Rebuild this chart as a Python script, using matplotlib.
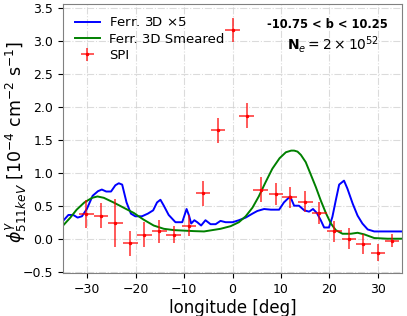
import matplotlib.pyplot as plt
import numpy as np

# SPI data points
spi_lon = [-30.2, -27.2, -24.2, -21.1, -18.2, -15.1, -12.2, -9.0, -6.1, -3.0, 0.0,
           2.9, 5.8, 9.0, 11.8, 15.0, 17.9, 21.0, 24.0, 27.0, 30.0, 32.9]
spi_flux = [0.38, 0.36, 0.25, -0.06, 0.07, 0.12, 0.07, 0.21, 0.70, 1.65, 3.17,
            1.87, 0.75, 0.69, 0.64, 0.57, 0.40, 0.12, 0.01, -0.07, -0.20, -0.02]
spi_err = [0.21, 0.19, 0.36, 0.19, 0.19, 0.17, 0.13, 0.16, 0.19, 0.19, 0.18,
           0.19, 0.19, 0.17, 0.16, 0.16, 0.17, 0.16, 0.16, 0.15, 0.13, 0.10]
spi_xerr = 1.5

# Ferr. 3D x5 model
ferr_lon = [-35, -33.9, -32.9, -32.0, -31.1, -30.1, -28.9, -27.8, -27.0, -26.1, -25.1,
            -24.2, -23.5, -22.8, -21.9, -21.0, -20.1, -18.7, -17.5, -16.4, -15.6, -14.9,
            -14.2, -13.2, -11.8, -10.4, -9.5, -9.0, -8.55, -7.9, -7.3, -6.5, -5.6, -4.55,
            -3.5, -2.5, -1.45, 0.0, 1.3, 2.7, 4.1, 5.1, 6.5, 7.9, 9.6, 10.6, 11.3, 11.9,
            12.7, 13.7, 14.8, 15.8, 16.6, 17.4, 18.2, 18.9, 19.9, 20.6, 21.3, 22.0, 23.0,
            23.7, 24.8, 25.8, 26.8, 27.9, 29.25, 35]
ferr_flux = [0.28, 0.37, 0.37, 0.33, 0.35, 0.46, 0.66, 0.73, 0.755, 0.725, 0.725,
             0.82, 0.85, 0.83, 0.56, 0.39, 0.35, 0.35, 0.39, 0.44, 0.56, 0.60,
             0.51, 0.37, 0.26, 0.26, 0.46, 0.36, 0.24, 0.29, 0.26, 0.21, 0.29, 0.23,
             0.23, 0.28, 0.26, 0.26, 0.29, 0.33, 0.39, 0.43, 0.46, 0.45, 0.45, 0.56, 0.61, 0.65,
             0.51, 0.51, 0.44, 0.42, 0.46, 0.40, 0.29, 0.18, 0.18, 0.34, 0.59, 0.83, 0.89,
             0.77, 0.54, 0.36, 0.24, 0.15, 0.12, 0.12]

# Ferr. 3D smeared model
smear_lon = [-35, -33.5, -32.2, -30.6, -29.0, -27.9, -26.6, -24.6, -22.5, -20.4, -18.4,
             -16.3, -14.2, -12.1, -8.0, -5.9, -2.5, -0.4, 1.3, 2.7, 4.1, 5.4, 6.8, 8.2,
             9.7, 11.0, 12.1, 12.7, 13.4, 14.1, 15.1, 16.1, 17.2, 18.2, 19.25, 20.3, 21.3,
             22.7, 24.4, 25.8, 27.2, 29.25, 32.0, 35]
smear_flux = [0.21, 0.33, 0.45, 0.56, 0.63, 0.65, 0.63, 0.56, 0.48, 0.40, 0.30,
              0.21, 0.16, 0.14, 0.125, 0.12, 0.16, 0.20, 0.26, 0.35, 0.48, 0.65, 0.865, 1.07,
              1.23, 1.32, 1.345, 1.345, 1.33, 1.28, 1.17, 0.99, 0.79, 0.59, 0.40, 0.24, 0.14,
              0.085, 0.085, 0.10, 0.075, 0.02, 0.01, 0.01]

fig = plt.figure(figsize=(4.07, 3.16), dpi=100)
ax = fig.add_axes([0.155, 0.136, 0.833, 0.85])

ax.plot(ferr_lon, ferr_flux, color='blue', lw=1.4, label=r'Ferr. 3D $\times$5')
ax.plot(smear_lon, smear_flux, color='green', lw=1.4, label='Ferr. 3D Smeared')
ax.errorbar(spi_lon, spi_flux, xerr=spi_xerr, yerr=spi_err, fmt='.', color='red',
            ms=3, elinewidth=1.4, ecolor=(1, 0, 0, 0.65), capsize=0, label='SPI')

ax.set_xlim(-35, 35)
ax.set_ylim(-0.51, 3.56)
ax.set_xticks([-30, -20, -10, 0, 10, 20, 30])
ax.set_yticks(np.arange(-0.5, 3.6, 0.5))
ax.tick_params(labelsize=9)
ax.grid(True, linestyle='-.', color='lightgray', alpha=0.8, lw=0.8)
for s in ax.spines.values():
    s.set_color('gray')

ax.set_xlabel('longitude [deg]', fontsize=12, labelpad=2)
ax.set_ylabel(r'$\phi^{\gamma}_{511keV}$ [10$^{-4}$ cm$^{-2}$ s$^{-1}$]', fontsize=12.5)
ax.yaxis.set_label_coords(-0.1, 0.49)

ax.text(0.78, 0.924, '-10.75 < b < 10.25', transform=ax.transAxes, ha='center',
        va='center', fontsize=8.3, fontweight='bold')
ax.text(0.795, 0.85, r'$\mathbf{N}_e = 2\times10^{52}$', transform=ax.transAxes,
        ha='center', va='center', fontsize=10)

ax.legend(loc='upper left', frameon=False, fontsize=9.5, handlelength=1.9,
          labelspacing=0.25, handletextpad=0.7)

fig.savefig('out.png', dpi=100)
